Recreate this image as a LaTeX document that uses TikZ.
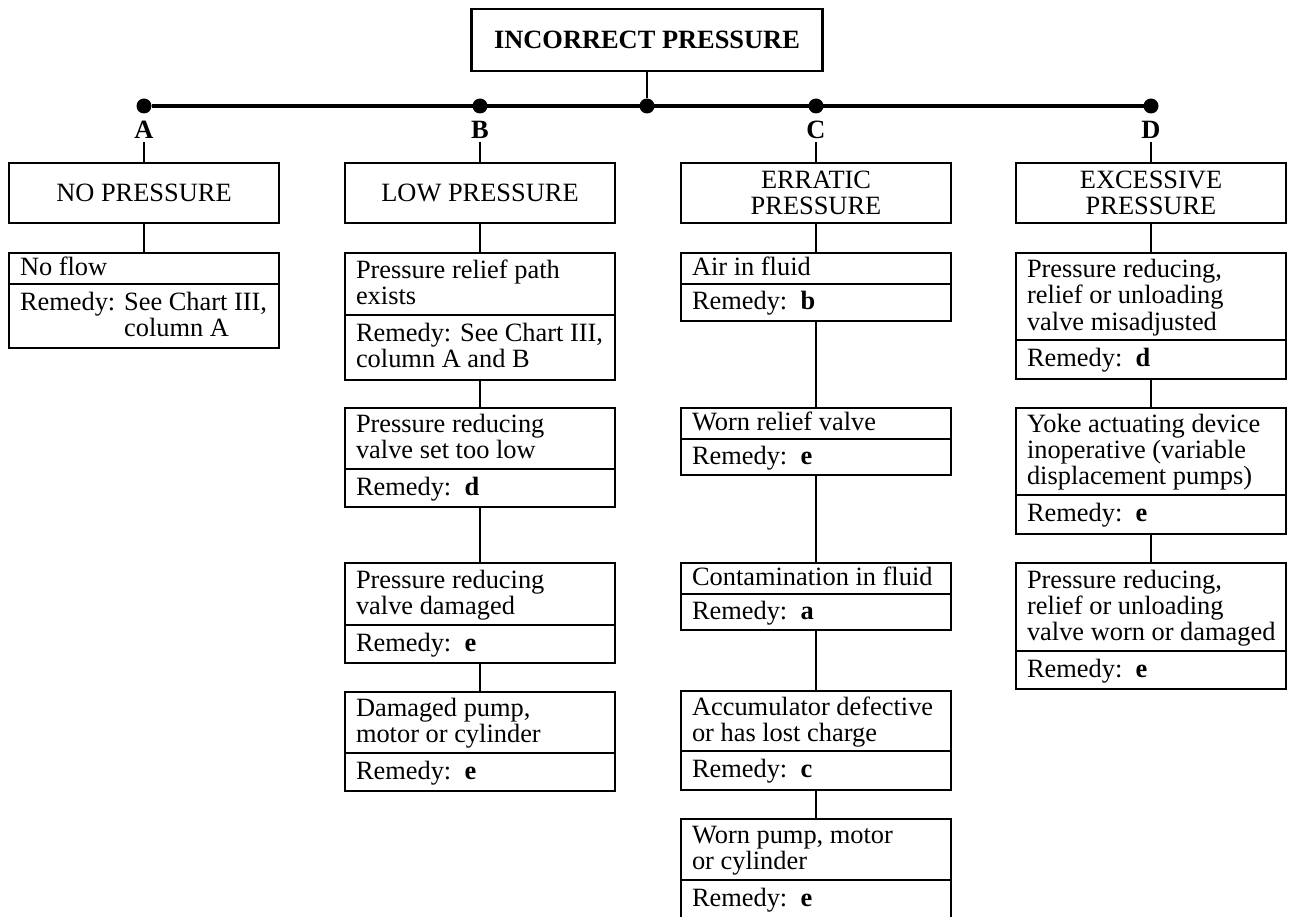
\documentclass[tikz,border=0pt]{standalone}
\usepackage{fontspec}
\setmainfont{Liberation Serif}
\newcommand\chartsize{\fontsize{26.4}{26}\selectfont}
\newcommand\remedy[1]{Remedy:\ \ \textbf{#1}}
% left-aligned block of lines, as wide as a cell's text area, with extra room on top
\newcommand\lines[1]{\makebox[248pt][l]{\raisebox{0pt}[\dimexpr\height+4pt\relax][\depth]{\begin{tabular}{@{}l@{}}#1\end{tabular}}}}
\begin{document}
\begin{tikzpicture}[x=1pt,y=-1pt,
  every node/.style={font=\chartsize},
  frame/.style={draw, line width=2.4pt, outer sep=0pt},
  cell/.style={frame, anchor=north west, minimum width=270pt,
    inner xsep=11pt, inner ysep=0pt},
  head/.style={frame, anchor=north west, minimum width=270pt, minimum height=60pt,
    inner sep=0pt, align=center},
  link/.style={line width=2.4pt},
  bus/.style={line width=3.2pt},
  joint/.style={circle, fill=black, inner sep=0pt, outer sep=0pt, minimum size=15pt},
  letter/.style={font=\chartsize\bfseries, inner sep=3pt},
]
\useasboundingbox (0,0) rectangle (1291,917);
\clip (0,0) rectangle (1291,917);

% top of the tree
\node[frame, minimum width=351pt, minimum height=62pt, font=\chartsize\bfseries]
  (title) at (647,40) {INCORRECT PRESSURE};

\node[joint] (jA) at (144,106) {};
\node[joint] (jB) at (480,106) {};
\node[joint] (jM) at (647,106) {};
\node[joint] (jC) at (816,106) {};
\node[joint] (jD) at (1151,106) {};
\draw[bus] (jA) -- (jD);
\draw[link] (title.south) -- (jM);

\node[letter] (lA) at (144,130) {A};
\node[letter] (lB) at (480,130) {B};
\node[letter] (lC) at (816,130) {C};
\node[letter] (lD) at (1151,130) {D};

% column headings
\node[head] (hA) at (9,163) {NO PRESSURE};
\node[head] (hB) at (345,163) {LOW PRESSURE};
\node[head] (hC) at (681,163) {ERRATIC\\PRESSURE};
\node[head] (hD) at (1016,163) {EXCESSIVE\\PRESSURE};

\foreach \c in {A,B,C,D} \draw[link] (l\c.south -| h\c.north) -- (h\c.north);

% column A
\node[cell, minimum height=31pt] (a1) at (9,253) {\lines{No flow}};
\node[cell, minimum height=64pt] (a1r) at (a1.south west)
  {\lines{Remedy: See Chart III,\\\hphantom{Remedy: }column A}};

% column B
\node[cell, minimum height=62pt] (b1) at (345,253) {\lines{Pressure relief path\\exists}};
\node[cell, minimum height=65pt] (b1r) at (b1.south west) {\lines{Remedy: See Chart III,\\column A and B}};
\node[cell, minimum height=61pt] (b2) at (345,408) {\lines{Pressure reducing\\valve set too low}};
\node[cell, minimum height=38pt] (b2r) at (b2.south west) {\lines{\remedy{d}}};
\node[cell, minimum height=62pt] (b3) at (345,563) {\lines{Pressure reducing\\valve damaged}};
\node[cell, minimum height=38pt] (b3r) at (b3.south west) {\lines{\remedy{e}}};
\node[cell, minimum height=61pt] (b4) at (345,692) {\lines{Damaged pump,\\motor or cylinder}};
\node[cell, minimum height=38pt] (b4r) at (b4.south west) {\lines{\remedy{e}}};

% column C
\node[cell, minimum height=31pt] (c1) at (681,253) {\lines{Air in fluid}};
\node[cell, minimum height=37pt] (c1r) at (c1.south west) {\lines{\remedy{b}}};
\node[cell, minimum height=31pt] (c2) at (681,408) {\lines{Worn relief valve}};
\node[cell, minimum height=36pt] (c2r) at (c2.south west) {\lines{\remedy{e}}};
\node[cell, minimum height=31pt] (c3) at (681,563) {\lines{Contamination in fluid}};
\node[cell, minimum height=36pt] (c3r) at (c3.south west) {\lines{\remedy{a}}};
\node[cell, minimum height=60pt] (c4) at (681,691) {\lines{Accumulator defective\\or has lost charge}};
\node[cell, minimum height=39pt] (c4r) at (c4.south west) {\lines{\remedy{c}}};
\node[cell, minimum height=61pt] (c5) at (681,819) {\lines{Worn pump, motor\\or cylinder}};
\node[cell, draw=none, minimum height=38pt] (c5r) at (c5.south west) {\lines{\remedy{e}}};
\draw[link] (c5r.north west) -- ++(0,100);
\draw[link] (c5r.north east) -- ++(0,100);

% column D
\node[cell, minimum height=87pt] (d1) at (1016,253)
  {\lines{Pressure reducing,\\relief or unloading\\valve misadjusted}};
\node[cell, minimum height=39pt] (d1r) at (d1.south west) {\lines{\remedy{d}}};
\node[cell, minimum height=87pt] (d2) at (1016,408)
  {\lines{Yoke actuating device\\inoperative (variable\\displacement pumps)}};
\node[cell, minimum height=39pt] (d2r) at (d2.south west) {\lines{\remedy{e}}};
\node[cell, minimum height=88pt] (d3) at (1016,563)
  {\lines{Pressure reducing,\\relief or unloading\\valve worn or damaged}};
\node[cell, minimum height=38pt] (d3r) at (d3.south west) {\lines{\remedy{e}}};

% connectors down each column
\draw[link] (hA.south) -- (a1.north);
\draw[link] (hB.south) -- (b1.north);
\draw[link] (b1r.south) -- (b2.north);
\draw[link] (b2r.south) -- (b3.north);
\draw[link] (b3r.south) -- (b4.north);
\draw[link] (hC.south) -- (c1.north);
\draw[link] (c1r.south) -- (c2.north);
\draw[link] (c2r.south) -- (c3.north);
\draw[link] (c3r.south) -- (c4.north);
\draw[link] (c4r.south) -- (c5.north);
\draw[link] (hD.south) -- (d1.north);
\draw[link] (d1r.south) -- (d2.north);
\draw[link] (d2r.south) -- (d3.north);
\end{tikzpicture}
\end{document}
